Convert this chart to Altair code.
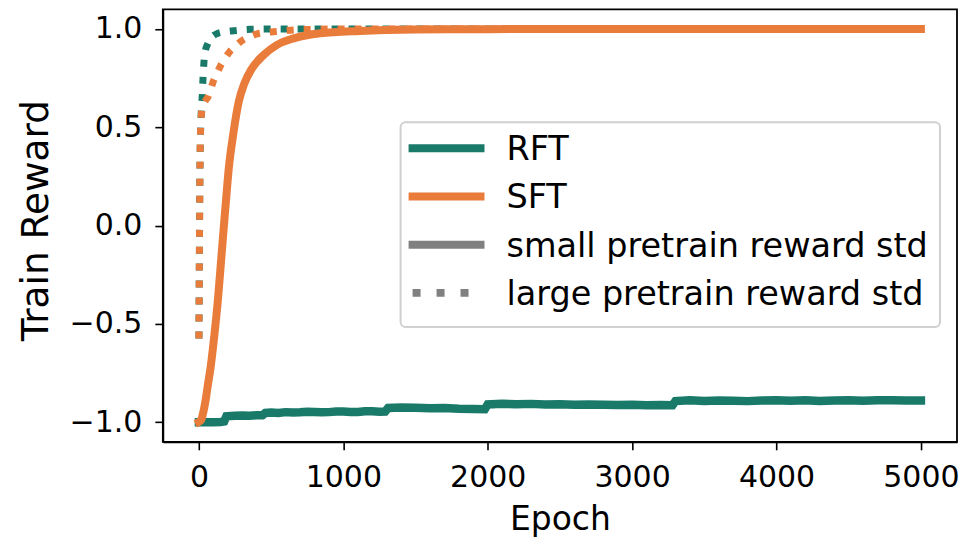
import altair as alt
import pandas as pd

# ---------------- data ----------------
rft_small_epoch = [0, 50, 100, 150, 175, 190, 250, 300, 350, 400, 440, 460, 500, 550, 600, 650,
                   700, 750, 800, 850, 900, 950, 1000, 1050, 1100, 1150, 1200, 1250, 1290, 1310,
                   1400, 1500, 1600, 1700, 1800, 1900, 1980, 2000, 2100, 2200, 2300, 2400, 2500,
                   2600, 2700, 2800, 2900, 3000, 3100, 3200, 3280, 3300, 3400, 3500, 3600, 3700,
                   3800, 3900, 4000, 4100, 4200, 4300, 4400, 4500, 4600, 4700, 4800, 4900, 5000]
rft_small_reward = [-1.0, -1.0, -1.0, -0.999, -0.996, -0.970, -0.967, -0.966, -0.967, -0.965,
                    -0.965, -0.953, -0.951, -0.953, -0.949, -0.951, -0.950, -0.947, -0.948,
                    -0.950, -0.949, -0.946, -0.946, -0.948, -0.948, -0.945, -0.945, -0.947,
                    -0.946, -0.928, -0.925, -0.927, -0.929, -0.928, -0.932, -0.933, -0.934,
                    -0.910, -0.906, -0.909, -0.907, -0.910, -0.909, -0.912, -0.910, -0.911,
                    -0.913, -0.911, -0.914, -0.913, -0.914, -0.893, -0.889, -0.892, -0.890,
                    -0.891, -0.893, -0.890, -0.888, -0.891, -0.889, -0.892, -0.890, -0.888,
                    -0.891, -0.889, -0.888, -0.890, -0.890]

rft_large_epoch = [0, 2, 4, 6, 9, 13, 16, 23, 28, 35, 45, 58, 80, 131, 180, 242, 357, 600, 1000,
                   5000]
rft_large_reward = [-0.575, -0.3, -0.05, 0.2, 0.4, 0.52, 0.575, 0.66, 0.746, 0.834, 0.89, 0.919,
                    0.95, 0.978, 0.986, 0.991, 0.998, 1.0, 1.0, 1.0]

sft_small_epoch = [0, 15, 30, 46, 62, 81, 108, 131, 150, 168, 187, 207, 237, 276, 311, 368, 449,
                   541, 656, 840, 1116, 1500, 2000, 3000, 5000]
sft_small_reward = [-1.0, -0.99, -0.95, -0.89, -0.81, -0.72, -0.55, -0.38, -0.21, -0.045, 0.124,
                    0.293, 0.462, 0.631, 0.716, 0.80, 0.868, 0.919, 0.952, 0.978, 0.99, 0.997,
                    0.999, 1.0, 1.0]

sft_large_epoch = [0, 2, 4, 6, 9, 13, 18, 30, 45, 62, 80, 99, 125, 150, 180, 214, 250, 295, 350,
                   403, 460, 518, 600, 656, 800, 1000, 1500, 5000]
sft_large_reward = [-0.575, -0.3, -0.05, 0.2, 0.4, 0.52, 0.57, 0.61, 0.635, 0.653, 0.69, 0.733,
                    0.775, 0.814, 0.85, 0.885, 0.91, 0.939, 0.96, 0.975, 0.982, 0.986, 0.992,
                    0.995, 0.998, 1.0, 1.0, 1.0]

x_ticks = [0, 1000, 2000, 3000, 4000, 5000]
y_ticks = [-1.0, -0.5, 0.0, 0.5, 1.0]

legend_labels = ["RFT", "SFT", "small pretrain reward std", "large pretrain reward std"]

GREEN = "#1a7a6a"
ORANGE = "#e97b3b"
GRAY = "#808080"
FONT = "DejaVu Sans"

# ---------------- chart ----------------
x_enc = alt.X(
    "epoch:Q",
    scale=alt.Scale(domain=[-250, 5250], nice=False, zero=False),
    axis=alt.Axis(values=x_ticks, format="d", title="Epoch", titleFontSize=33,
                  titleBaseline="alphabetic", titleY=88, labelFontSize=30, labelPadding=13),
)
y_enc = alt.Y(
    "reward:Q",
    scale=alt.Scale(domain=[-1.1, 1.1], nice=False, zero=False),
    axis=alt.Axis(values=y_ticks, format=".1f", title="Train Reward", titleFontSize=37.5,
                  titleBaseline="alphabetic", titleX=-115, titleY=211, labelFontSize=30,
                  labelPadding=13),
)


def frame(xs, ys):
    return pd.DataFrame({"epoch": xs, "reward": ys})


rft_small = alt.Chart(frame(rft_small_epoch, rft_small_reward)).mark_line(
    color=GREEN, strokeWidth=8.5, strokeCap="square", interpolate="linear"
).encode(x=x_enc, y=y_enc)

rft_large = alt.Chart(frame(rft_large_epoch, rft_large_reward)).mark_line(
    color=GREEN, strokeWidth=7, strokeCap="butt", strokeDash=[7, 10], interpolate="monotone"
).encode(x=x_enc, y=y_enc)

sft_large = alt.Chart(frame(sft_large_epoch, sft_large_reward)).mark_line(
    color=ORANGE, strokeWidth=7, strokeCap="butt", strokeDash=[7, 10], interpolate="monotone"
).encode(x=x_enc, y=y_enc)

sft_small = alt.Chart(frame(sft_small_epoch, sft_small_reward)).mark_line(
    color=ORANGE, strokeWidth=8, strokeCap="square", interpolate="monotone"
).encode(x=x_enc, y=y_enc)

# ---------------- legend (drawn by hand, one box, four entries) ----------------
row_step = 48.3
first_row = 139
leg = pd.DataFrame({
    "label": legend_labels,
    "col": [GREEN, ORANGE, GRAY, GRAY],
    "row": [0, 1, 2, 3],
})
leg["ly"] = first_row + leg["row"] * row_step
leg["ty"] = leg["ly"] + 12

legend_box = alt.Chart(pd.DataFrame({"k": [0]})).mark_rect(
    fill="white", fillOpacity=0.8, stroke="#d0d0d0", strokeWidth=2, cornerRadius=5
).encode(x=alt.value(238), x2=alt.value(778), y=alt.value(113), y2=alt.value(318))

legend_solid = alt.Chart(leg[leg["row"] < 3]).mark_rule(strokeWidth=8).encode(
    x=alt.value(246), x2=alt.value(322),
    y=alt.Y("ly:Q", scale=None, axis=None),
    color=alt.Color("col:N", scale=None, legend=None),
)

legend_dotted = alt.Chart(leg[leg["row"] == 3]).mark_rule(
    strokeWidth=8, strokeDash=[8, 16], strokeCap="butt"
).encode(
    x=alt.value(250), x2=alt.value(307),
    y=alt.Y("ly:Q", scale=None, axis=None),
    color=alt.Color("col:N", scale=None, legend=None),
)

legend_text = alt.Chart(leg).mark_text(
    align="left", baseline="alphabetic", fontSize=33.5, font=FONT, color="black"
).encode(
    x=alt.value(344),
    y=alt.Y("ty:Q", scale=None, axis=None),
    text="label:N",
)

chart = alt.layer(
    rft_small, rft_large, sft_large, sft_small,
    legend_box, legend_solid, legend_dotted, legend_text,
).properties(
    width=795,
    height=433,
    padding={"left": 155, "top": 1, "right": 2, "bottom": 96},
    autosize=alt.AutoSizeParams(type="none"),
    background="white",
).configure_view(
    stroke="black", strokeWidth=1.8
).configure_axis(
    grid=False,
    domainColor="black", domainWidth=1.8,
    tickColor="black", tickWidth=1.6, tickSize=8,
    labelColor="black", titleColor="black",
    labelFont=FONT, titleFont=FONT, titleFontWeight="normal",
)

chart.save("out.html", embed_options={"renderer": "svg", "actions": False})
